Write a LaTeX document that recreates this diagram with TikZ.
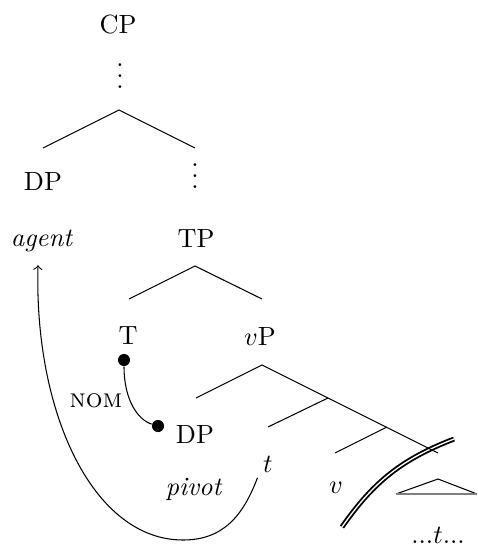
\documentclass[tikz,border=0pt]{standalone}
\usepackage{amsmath}
\usepackage{amssymb}
\usepackage{tikz}
\usetikzlibrary{calc}
\tikzset{lbl/.style={anchor=base,inner sep=2pt},
	featdot/.style={circle,fill,inner sep=0pt,minimum size=4.6pt}}
\begin{document}
\begin{tikzpicture}[x=0.38pt,y=-0.38pt]
\useasboundingbox (0,0) rectangle (477,545);
							\node[lbl] (cp) at (118,33) {CP};
							\node[lbl] (cpdots) at (120,88) {$\vdots$};
							\node[lbl] (dp) at (43,190) {DP};
							\node[lbl] (tpdots) at (195,188) {$\vdots$};
							\node[lbl] (agent) at (42,246) {\textit{agent}};
							\node[lbl] (tp) at (196,247) {TP};
							\node[lbl] (t) at (128,344) {T};
							\node[lbl] (vp) at (260,345) {$v$P};
							\node[lbl] (nom) at (96,407) {\textsc{nom}};
							\node[lbl] (dpivot) at (195,443) {DP};
							\node[lbl] (trace) at (268,472) {$t$};
							\node[lbl] (pivot) at (194,495) {\textit{pivot}};
							\node[lbl] (v) at (336,493) {$v$};
							\node[lbl] (lowtrace) at (438,543) {...$t$...};
							\node[featdot] (tdot) at (124,360) {};
							\node[featdot] (dpdot) at (158,426) {};
					\coordinate (cpapex) at (119,110);
					\coordinate (cpl) at (43,148);
					\coordinate (cpr) at (195,148);
					\coordinate (tpapex) at (195,266);
					\coordinate (tpl) at (129,299);
					\coordinate (tpr) at (262,299);
					\coordinate (vpapex) at (262,365);
					\coordinate (vpl) at (196,398);
					\coordinate (vpr) at (438,453);
					\coordinate (vbar) at (328,398);
					\coordinate (vbarl) at (268,427);
					\coordinate (vhead) at (387,427);
					\coordinate (vheadl) at (335,453);
					\coordinate (triapex) at (438,479);
					\coordinate (tril) at (396,494);
					\coordinate (trir) at (477,494);
					\coordinate (cutlo) at (342,527);
					\coordinate (cuthi) at (454,439);
					\coordinate (lowpt) at (183,540);
				% phase boundary
				\draw [line width=0.7pt,double,double distance=0.5pt] (cutlo) to[bend left=17] (cuthi);
				% tree
				\draw (cpl) -- (cpapex) -- (cpr);
				\draw (tpl) -- (tpapex) -- (tpr);
				\draw (vpl) -- (vpapex) -- (vpr);
				\draw (vbar) -- (vbarl);
				\draw (vhead) -- (vheadl);
				\draw (tril) -- (triapex) -- (trir);
				\draw [gray,line width=0.6pt] (tril) -- (trir);
				% agree and move
				\draw (tdot) .. controls (124,400) and (138,420) .. (dpdot);
				\draw [->] (trace.south west) .. controls (243,516) and (223,540) .. (lowpt)
					.. controls (93,540) and (34,413) .. ($(agent.south)+(-4,8)$);
\end{tikzpicture}
\end{document}
